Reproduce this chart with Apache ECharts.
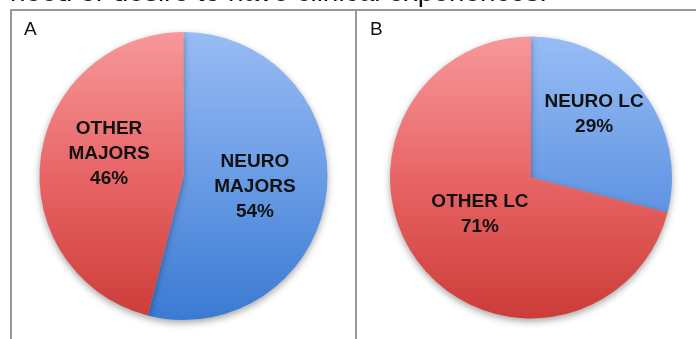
<!DOCTYPE html>
<html>
<head>
<meta charset="utf-8">
<script src="https://cdn.jsdelivr.net/npm/echarts@6/dist/echarts.min.js"></script>
<style>
  html, body { margin: 0; padding: 0; background: #ffffff; }
  #chart { width: 696px; height: 339px; }
</style>
</head>
<body>
<div id="chart"></div>
<script>
// Panel A: majors
const majorsNames = ['NEURO\nMAJORS', 'OTHER\nMAJORS'];
const majorsValues = [54, 46];
// Panel B: learning communities
const lcNames = ['NEURO LC', 'OTHER LC'];
const lcValues = [29, 71];

const panelTitles = ['A', 'B'];
const captionText = 'need or desire to have clinical experiences.';

const FONT = '"Liberation Sans", Arial, sans-serif';

function blueFill(top, bottom) {
  return new echarts.graphic.LinearGradient(0, top, 0, bottom, [
    { offset: 0, color: '#98bcf5' },
    { offset: 0.5, color: '#6a9ce6' },
    { offset: 1, color: '#3a7ad2' }
  ], true);
}
function redFill(top, bottom) {
  return new echarts.graphic.LinearGradient(0, top, 0, bottom, [
    { offset: 0, color: '#f7989a' },
    { offset: 0.5, color: '#e86566' },
    { offset: 1, color: '#cc3c38' }
  ], true);
}

function buildData(names, values, top, bottom) {
  return names.map((n, i) => ({
    name: n,
    value: values[i],
    itemStyle: { color: i === 0 ? blueFill(top, bottom) : redFill(top, bottom) }
  }));
}

function pieSeries(names, values, center, radius, offsets) {
  const top = center[1] - radius, bottom = center[1] + radius;
  return {
    type: 'pie',
    center: center,
    radius: radius,
    startAngle: 90,
    clockwise: true,
    silent: true,
    animation: false,
    data: buildData(names, values, top, bottom),
    itemStyle: {
      borderWidth: 0,
      shadowBlur: 7,
      shadowOffsetY: 3,
      shadowColor: 'rgba(0,0,0,0.35)'
    },
    label: {
      show: true,
      position: 'inside',
      formatter: p => p.name + '\n' + p.value + '%',
      fontFamily: FONT,
      fontWeight: 'bold',
      fontSize: 19,
      lineHeight: 25,
      color: '#111',
      align: 'center'
    },
    labelLine: { show: false },
    labelLayout: p => ({ dx: offsets[p.dataIndex][0], dy: offsets[p.dataIndex][1] })
  };
}

const chart = echarts.init(document.getElementById('chart'), null, { renderer: 'canvas' });

const lineStyle = { stroke: '#999999', lineWidth: 2 };

chart.setOption({
  backgroundColor: '#ffffff',
  graphic: [
    { type: 'text', left: 10, top: -21, style: { text: captionText, font: '28px ' + FONT, fill: '#111' } },
    { type: 'line', shape: { x1: 10, y1: 10, x2: 696, y2: 10 }, style: lineStyle },
    { type: 'line', shape: { x1: 11, y1: 10, x2: 11, y2: 339 }, style: lineStyle },
    { type: 'line', shape: { x1: 356, y1: 10, x2: 356, y2: 339 }, style: lineStyle },
    { type: 'text', left: 24, top: 20, style: { text: panelTitles[0], font: '19px ' + FONT, fill: '#111' } },
    { type: 'text', left: 370, top: 20, style: { text: panelTitles[1], font: '19px ' + FONT, fill: '#111' } }
  ],
  series: [
    pieSeries(majorsNames, majorsValues, [183.5, 176], 144, [[-3, 1], [0, -13]]),
    pieSeries(lcNames, lcValues, [531, 177.5], 141, [[5, -18], [7, -8]])
  ]
});
</script>
</body>
</html>
